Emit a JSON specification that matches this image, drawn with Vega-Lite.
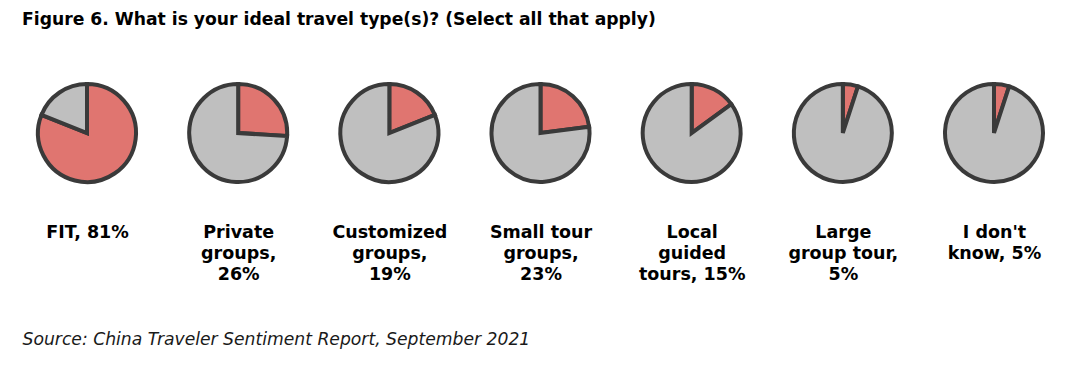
{
  "$schema": "https://vega.github.io/schema/vega-lite/v6.json",
  "width": 1037,
  "height": 170,
  "autosize": {"type": "none"},
  "padding": {"left": 22, "top": 48, "right": 29, "bottom": 148},
  "background": "white",
  "config": {"view": {"stroke": null}},
  "title": {
    "text": "Figure 6. What is your ideal travel type(s)? (Select all that apply)",
    "anchor": "start",
    "font": "DejaVu Sans",
    "fontSize": 17.2,
    "fontWeight": "bold",
    "color": "#000000",
    "offset": 20
  },
  "data": {
    "values": [
      {"type": "FIT, 81%", "part": "yes", "value": 81},
      {"type": "FIT, 81%", "part": "no", "value": 19},
      {"type": "Private|groups,|26%", "part": "yes", "value": 26},
      {"type": "Private|groups,|26%", "part": "no", "value": 74},
      {"type": "Customized|groups,|19%", "part": "yes", "value": 19},
      {"type": "Customized|groups,|19%", "part": "no", "value": 81},
      {"type": "Small tour|groups,|23%", "part": "yes", "value": 23},
      {"type": "Small tour|groups,|23%", "part": "no", "value": 77},
      {"type": "Local|guided|tours, 15%", "part": "yes", "value": 15},
      {"type": "Local|guided|tours, 15%", "part": "no", "value": 85},
      {"type": "Large|group tour,|5%", "part": "yes", "value": 5},
      {"type": "Large|group tour,|5%", "part": "no", "value": 95},
      {"type": "I don't|know, 5%", "part": "yes", "value": 5},
      {"type": "I don't|know, 5%", "part": "no", "value": 95}
    ]
  },
  "transform": [
    {"stack": "value", "groupby": ["type"], "sort": [{"field": "part", "order": "descending"}], "as": ["v0", "v1"]}
  ],
  "mark": {"type": "arc", "radius": 49, "stroke": "#3a3a3a", "strokeWidth": 4},
  "encoding": {
    "x": {
      "field": "type",
      "type": "nominal",
      "sort": null,
      "scale": {"type": "point", "padding": 0.43},
      "axis": {
        "domain": false,
        "ticks": false,
        "grid": false,
        "labelAngle": 0,
        "labelAlign": "center",
        "labelBaseline": "top",
        "labelPadding": 5,
        "labelFont": "DejaVu Sans",
        "labelFontWeight": "bold",
        "labelFontSize": 17.5,
        "labelColor": "#000000",
        "labelLineHeight": 21,
        "labelOverlap": false,
        "labelLimit": 300,
        "labelExpr": "split(datum.value, '|')",
        "title": "Source: China Traveler Sentiment Report, September 2021",
        "titleFont": "DejaVu Sans",
        "titleFontStyle": "italic",
        "titleFontWeight": "normal",
        "titleFontSize": 17.2,
        "titleColor": "#1a1a1a",
        "titleAlign": "left",
        "titleAnchor": "start",
        "titleX": 0,
        "titleY": 126,
        "titleBaseline": "alphabetic"
      }
    },
    "theta": {"field": "v0", "type": "quantitative", "scale": {"domain": [0, 100]}},
    "theta2": {"field": "v1"},
    "color": {
      "field": "part",
      "type": "nominal",
      "scale": {"domain": ["yes", "no"], "range": ["#E07570", "#BFBFBF"]},
      "legend": null
    }
  }
}
